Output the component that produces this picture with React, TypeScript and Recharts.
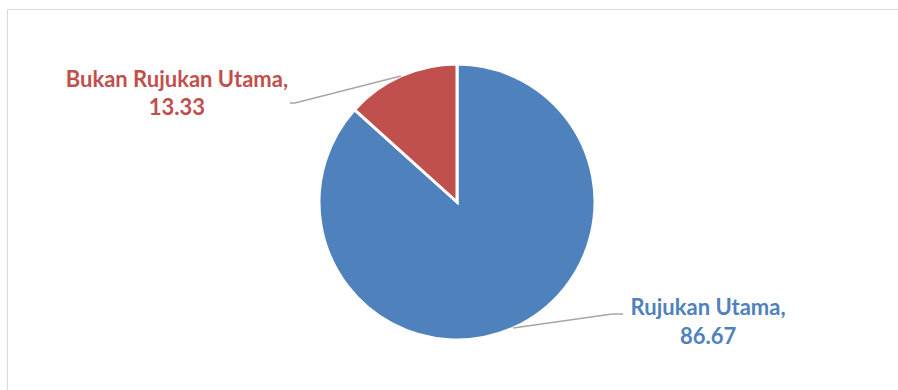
import React from 'react';
import { PieChart, Pie, Cell } from 'recharts';

const categories = ['Rujukan Utama', 'Bukan Rujukan Utama'];
const values = [86.67, 13.33];
const COLORS = ['#4F81BD', '#C0504D'];

const data = categories.map((name, i) => ({ name, value: values[i] }));

// label placement per slice, relative to the point on the pie edge
const LABEL_POS = [
  { elbow: [99, -14], tail: 11, textDx: 85, line1: 1, line2: 30 },
  { elbow: [-106, 27], tail: -5, textDx: -113, line1: -16, line2: 12 },
];

const RADIAN = Math.PI / 180;

const renderLabel = (props: any) => {
  const { cx, cy, midAngle, outerRadius, index, name, value } = props;
  const pos = LABEL_POS[index];
  const ex = cx + outerRadius * Math.cos(-midAngle * RADIAN);
  const ey = cy + outerRadius * Math.sin(-midAngle * RADIAN);
  const bx = ex + pos.elbow[0];
  const by = ey + pos.elbow[1];
  const tx = bx + pos.tail;
  const color = COLORS[index % COLORS.length];
  return (
    <g>
      <polyline points={`${ex},${ey} ${bx},${by} ${tx},${by}`} fill="none" stroke="#A6A6A6" strokeWidth={1.5} />
      <text
        x={tx + pos.textDx}
        y={by + pos.line1}
        textAnchor="middle"
        fill={color}
        fontFamily="Lato, 'Open Sans', sans-serif"
        fontWeight="bold"
        fontSize={22}
      >
        {name},
      </text>
      <text
        x={tx + pos.textDx}
        y={by + pos.line2}
        textAnchor="middle"
        fill={color}
        fontFamily="Lato, 'Open Sans', sans-serif"
        fontWeight="bold"
        fontSize={22}
      >
        {value.toFixed(2)}
      </text>
    </g>
  );
};

export default function App() {
  return (
    <div style={{ position: 'absolute', left: 0, top: 0, width: 898, height: 390, overflow: 'hidden', background: '#fff' }}>
      <div
        style={{
          position: 'absolute',
          left: 7,
          top: 9,
          width: 920,
          height: 420,
          border: '1px solid #D9D9D9',
          boxSizing: 'border-box',
        }}
      />
      <div style={{ position: 'absolute', left: 0, top: 0 }}>
        <PieChart width={898} height={390} margin={{ top: 0, right: 0, bottom: 0, left: 0 }}>
          <Pie
            data={data}
            dataKey="value"
            nameKey="name"
            cx={457}
            cy={202}
            outerRadius={138}
            startAngle={90}
            endAngle={-270}
            stroke="#FFFFFF"
            strokeWidth={3}
            label={renderLabel}
            labelLine={false}
            isAnimationActive={false}
          >
            {data.map((entry, index) => (
              <Cell key={`cell-${index}`} fill={COLORS[index % COLORS.length]} />
            ))}
          </Pie>
        </PieChart>
      </div>
    </div>
  );
}
